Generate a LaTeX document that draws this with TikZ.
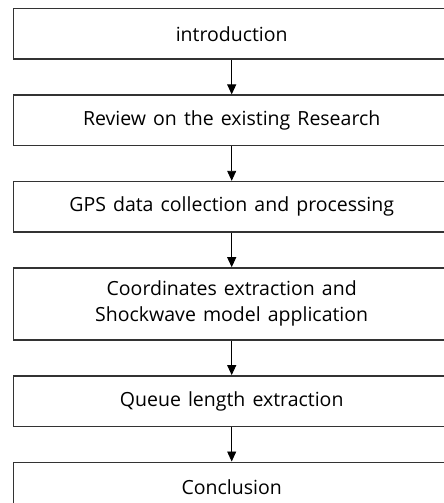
\documentclass[tikz,border=0pt]{standalone}
\usepackage{fontspec}
\setmainfont[WordSpace=1.4]{Open Sans}
\usetikzlibrary{arrows.meta, positioning}

\tikzset{
  stage/.style={draw=black!80, line width=1.4pt, minimum width=436pt, minimum height=50.5pt,
    inner sep=0pt, align=center, font=\fontsize{19.5}{26}\selectfont},
  flow/.style={line width=0.9pt, -{Triangle[width=9pt, length=10pt]}}
}

\begin{document}
\begin{tikzpicture}[x=1pt, y=1pt, node distance=34.5pt]
        % Frame
        \useasboundingbox (0,0) rectangle (444,-503);
        \clip (0,0) rectangle (444,-503);
        % Stages
        \node[stage, anchor=north west] (intro) at (13,-8) {introduction};
        \node[stage, below=of intro] (review) {Review on the existing Research};
        \node[stage, below=of review] (gps) {GPS data collection and processing};
        \node[stage, below=of gps, minimum height=72pt] (coord) {Coordinates extraction and\\Shockwave model application};
        \node[stage, below=of coord] (queue) {Queue length extraction};
        \node[stage, below=of queue] (concl) {Conclusion};
        % Arrows
        \draw[flow] (intro) -- (review);
        \draw[flow] (review) -- (gps);
        \draw[flow] (gps) -- (coord);
        \draw[flow] (coord) -- (queue);
        \draw[flow] (queue) -- (concl);
    \end{tikzpicture}
\end{document}
